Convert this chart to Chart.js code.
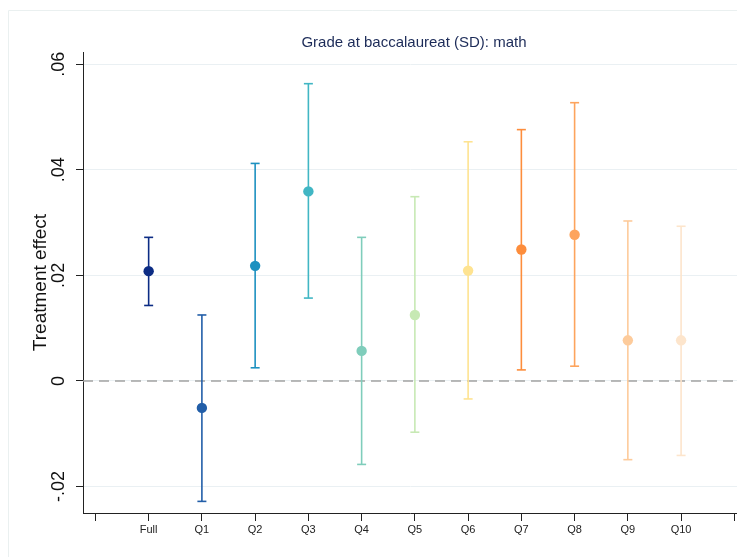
<!DOCTYPE html>
<html>
<head>
<meta charset="utf-8">
<script src="https://cdn.jsdelivr.net/npm/chart.js@4"></script>
<style>
  html, body { margin: 0; padding: 0; background: #ffffff; }
  #wrap { width: 737px; height: 557px; position: relative; }
</style>
</head>
<body>
<div id="wrap"><canvas id="c" width="737" height="557"></canvas></div>
<script>
// Estimates of the treatment effect on the math grade, full sample and by decile
const categories = ['Full', 'Q1', 'Q2', 'Q3', 'Q4', 'Q5', 'Q6', 'Q7', 'Q8', 'Q9', 'Q10'];
const estimates  = [0.0208, -0.0051, 0.0218, 0.0359, 0.0057, 0.0125, 0.0209, 0.0249, 0.0277, 0.0077, 0.0077];
const ciLower    = [0.0143, -0.0228, 0.0025, 0.0157, -0.0158, -0.0097, -0.0034, 0.0021, 0.0028, -0.0149, -0.0141];
const ciUpper    = [0.0272, 0.0125, 0.0412, 0.0563, 0.0272, 0.0349, 0.0453, 0.0476, 0.0527, 0.0303, 0.0293];
const colors     = ['#0c2c84', '#225ea8', '#1d91c0', '#41b6c4', '#7fcdbb', '#c7e9b4',
                    '#fee391', '#fd8d3c', '#fda45d', '#fdcb9b', '#fde5cc'];
const yTicks     = [-0.02, 0, 0.02, 0.04, 0.06];

const X_MIN = -0.233, X_MAX = 12.05;
const FONT = '"Liberation Sans", Arial, sans-serif';

const fmtY = v => {
  if (Math.abs(v) < 1e-9) return '0';
  const s = Math.abs(v).toFixed(2).replace(/^0/, '');
  return (v < 0 ? '-' : '') + s;
};

// whisker for each estimate: a two-point segment with flat caps
const whiskers = categories.map((c, i) => ({
  type: 'line',
  label: c + ' CI',
  data: [{ x: i + 1, y: ciLower[i] }, { x: i + 1, y: ciUpper[i] }],
  borderColor: colors[i],
  borderWidth: 1.6,
  pointStyle: 'line',
  pointRadius: 4.5,
  pointBorderColor: colors[i],
  pointBorderWidth: 1.6,
  pointHoverRadius: 4.5,
  fill: false,
  order: 1
}));

const zeroLine = {
  type: 'line',
  label: 'zero',
  data: [{ x: X_MIN, y: 0 }, { x: X_MAX, y: 0 }],
  borderColor: '#a3a3a3',
  borderWidth: 1.5,
  borderDash: [10, 6],
  pointRadius: 0,
  fill: false,
  order: 2
};

const pointSet = {
  type: 'scatter',
  label: 'estimate',
  data: categories.map((c, i) => ({ x: i + 1, y: estimates[i] })),
  pointRadius: 5.2,
  pointHoverRadius: 5.2,
  pointBackgroundColor: colors,
  pointBorderWidth: 0,
  order: 0
};

// heading over the plot and faint outer frame
const decor = {
  id: 'decor',
  beforeDraw(chart) {
    const ctx = chart.ctx;
    ctx.save();
    ctx.strokeStyle = '#eaf0f0';
    ctx.lineWidth = 1;
    ctx.beginPath();
    ctx.moveTo(8.5, 557);
    ctx.lineTo(8.5, 10.5);
    ctx.lineTo(737, 10.5);
    ctx.stroke();
    ctx.restore();
  },
  afterDraw(chart) {
    const ctx = chart.ctx;
    ctx.save();
    ctx.fillStyle = '#1c2b58';
    ctx.font = '15px ' + FONT;
    ctx.textAlign = 'center';
    ctx.textBaseline = 'middle';
    ctx.fillText('Grade at baccalaureat (SD): math', 414, 43);
    ctx.restore();
  }
};

new Chart(document.getElementById('c'), {
  data: { datasets: [pointSet].concat(whiskers, [zeroLine]) },
  plugins: [decor],
  options: {
    responsive: false,
    animation: false,
    devicePixelRatio: 1,
    layout: { autoPadding: false, padding: { top: 52, right: 0, bottom: 0, left: 0 } },
    plugins: {
      legend: { display: false },
      tooltip: { enabled: false },
      title: { display: false }
    },
    scales: {
      x: {
        type: 'linear',
        min: X_MIN,
        max: X_MAX,
        afterBuildTicks: s => { s.ticks = []; for (let i = 0; i <= 12; i++) s.ticks.push({ value: i }); },
        afterFit: s => { s.height = 44; s.paddingLeft = 0; s.paddingRight = 0; },
        ticks: {
          callback: v => (v >= 1 && v <= categories.length) ? categories[v - 1] : '',
          font: { family: FONT, size: 11 },
          color: '#222222',
          padding: 2,
          maxRotation: 0,
          minRotation: 0,
          autoSkip: false
        },
        grid: { drawOnChartArea: false, drawTicks: true, tickLength: 8, tickColor: '#222222', tickWidth: 1 },
        border: { color: '#222222', width: 1 }
      },
      y: {
        type: 'linear',
        min: -0.025,
        max: 0.0623,
        afterBuildTicks: s => { s.ticks = yTicks.map(v => ({ value: v })); },
        afterFit: s => { s.width = 83; },
        ticks: {
          callback: v => fmtY(v),
          font: { family: FONT, size: 18 },
          color: '#111111',
          minRotation: 90,
          maxRotation: 90,
          crossAlign: 'center',
          padding: 1
        },
        grid: { color: '#eaf0f3', lineWidth: 1, tickLength: 7, tickColor: '#222222', tickWidth: 1 },
        border: { color: '#222222', width: 1 },
        title: {
          display: true,
          text: 'Treatment effect',
          font: { family: FONT, size: 19 },
          color: '#111111',
          padding: { top: 29, bottom: 0 }
        }
      }
    }
  }
});
</script>
</body>
</html>
